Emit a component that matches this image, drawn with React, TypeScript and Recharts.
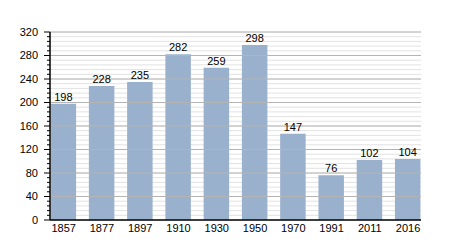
import React from "react";
import { ComposedChart, Bar, XAxis, YAxis, CartesianGrid, ReferenceLine, LabelList } from "recharts";

const years = ["1857", "1877", "1897", "1910", "1930", "1950", "1970", "1991", "2011", "2016"];
const population = [198, 228, 235, 282, 259, 298, 147, 76, 102, 104];
const majorTicks = [40, 80, 120, 160, 200, 240, 280, 320];
const allTicks = Array.from({ length: 41 }, (_, k) => k * 8);

const data = years.map((y, i) => ({ i, year: y, pop: population[i] }));
const FONT = "'Liberation Sans', Arial, sans-serif";

const YTick = (props: any) => {
  const { x, y, payload } = props;
  const v = payload.value;
  const major = v % 40 === 0;
  return (
    <g>
      <line x1={x - (major ? 6 : 3)} x2={x} y1={y} y2={y} stroke="#000" strokeWidth={1} />
      {major && (
        <text x={x - 12} y={y} dy="0.35em" textAnchor="end" fontSize={11} fontFamily={FONT} fill="#000">
          {v}
        </text>
      )}
    </g>
  );
};

export default function App() {
  return (
    <div style={{ position: "absolute", left: 0, top: 0, width: 450, height: 250, background: "#fff" }}>
      <ComposedChart width={450} height={250} data={data} margin={{ top: 32, right: 29, bottom: 0, left: 0 }}>
        <CartesianGrid vertical={false} stroke="#e2e2e2" strokeWidth={1} />
        {majorTicks.map((t) => (
          <ReferenceLine key={t} y={t} stroke="#b4b4b4" strokeWidth={1} />
        ))}
        <XAxis
          dataKey="i"
          type="number"
          domain={[-0.359, 9.338]}
          ticks={years.map((_, i) => i)}
          tickFormatter={(v: number) => years[v]}
          allowDataOverflow
          interval={0}
          height={30}
          tickSize={0}
          tickMargin={4}
          axisLine={{ stroke: "#000", strokeWidth: 1.5 }}
          tick={{ fontSize: 11, fontFamily: FONT, fill: "#000" }}
        />
        <YAxis
          type="number"
          domain={[0, 320]}
          ticks={allTicks}
          interval={0}
          width={50}
          tickSize={0}
          tickMargin={0}
          tickLine={false}
          axisLine={{ stroke: "#000", strokeWidth: 1.5 }}
          tick={<YTick />}
        />
        <Bar dataKey="pop" fill="#99b1cd" barSize={25.5} isAnimationActive={false}>
          <LabelList dataKey="pop" position="top" offset={3} fontSize={11} fontFamily={FONT} fill="#000" />
        </Bar>
      </ComposedChart>
    </div>
  );
}
